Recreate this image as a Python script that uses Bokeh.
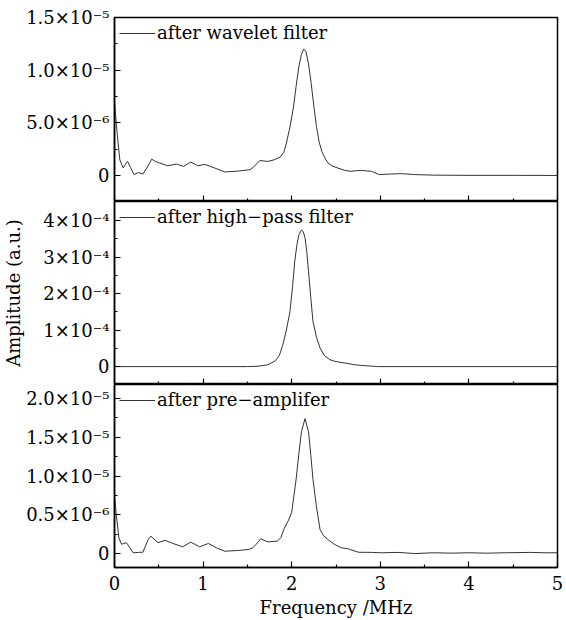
from bokeh.plotting import figure
from bokeh.layouts import column
from bokeh.models import FixedTicker, Range1d, CustomLabelingPolicy
from bokeh.embed import file_html
from bokeh.resources import INLINE

FONT = "DejaVu Serif"

# ---- data (amplitudes in units shown per panel) ----
# after wavelet filter, amplitude in 1e-6
freq_wavelet = [0, 0.03, 0.06, 0.098, 0.125, 0.147, 0.18, 0.22, 0.27, 0.32, 0.37, 0.42, 0.46, 0.51,
                0.6, 0.70, 0.78, 0.86, 0.94, 1.02, 1.13, 1.245, 1.40, 1.53, 1.58, 1.64, 1.73, 1.80,
                1.87, 1.91, 1.94, 1.98, 2.02, 2.05, 2.08, 2.11, 2.135, 2.16, 2.19, 2.22, 2.25, 2.28,
                2.31, 2.34, 2.38, 2.41, 2.46, 2.52, 2.60, 2.67, 2.73, 2.79, 2.85, 2.90, 2.99, 3.1,
                3.24, 3.4, 3.6, 4.0, 4.5, 5.0]
amp_wavelet = [7.0, 4.0, 1.5, 0.73, 1.1, 1.35, 0.8, 0.1, 0.3, 0.15, 0.8, 1.57, 1.35, 1.2,
               0.94, 1.1, 0.88, 1.29, 0.94, 1.07, 0.73, 0.35, 0.44, 0.57, 0.9, 1.44, 1.35, 1.5,
               1.76, 2.2, 3.08, 4.6, 6.5, 8.5, 10.3, 11.5, 12.0, 11.8, 10.6, 8.75, 6.6, 4.65,
               3.2, 2.3, 1.6, 1.2, 0.9, 0.73, 0.5, 0.41, 0.48, 0.5, 0.45, 0.41, 0.1, 0.15,
               0.19, 0.1, 0.05, 0.03, 0.03, 0.02]

# after high-pass filter, amplitude in 1e-4
freq_highpass = [0, 1.0, 1.5, 1.62, 1.73, 1.81, 1.86, 1.90, 1.94, 1.98, 2.01, 2.035, 2.06, 2.08,
                 2.11, 2.13, 2.15, 2.17, 2.19, 2.215, 2.24, 2.28, 2.32, 2.37, 2.43, 2.48, 2.54,
                 2.62, 2.71, 2.85, 2.98, 4.0, 5.0]
amp_highpass = [0, 0, 0, 0.01, 0.05, 0.15, 0.3, 0.6, 1.0, 1.5, 2.2, 2.9, 3.35, 3.6,
                3.74, 3.7, 3.53, 3.15, 2.6, 1.9, 1.24, 0.8, 0.51, 0.3, 0.19, 0.15, 0.12,
                0.09, 0.05, 0.02, 0, 0, 0]

# after pre-amplifer, amplitude in 1e-6
freq_preamp = [0, 0.02, 0.05, 0.08, 0.135, 0.17, 0.21, 0.27, 0.32, 0.38, 0.41, 0.49, 0.57, 0.66,
               0.77, 0.86, 0.96, 1.06, 1.15, 1.245, 1.4, 1.51, 1.56, 1.60, 1.65, 1.73, 1.84, 1.88,
               1.91, 1.96, 2.0, 2.05, 2.08, 2.11, 2.15, 2.19, 2.215, 2.24, 2.28, 2.32, 2.36, 2.41,
               2.48, 2.56, 2.64, 2.75, 2.9, 3.01, 3.2, 3.39, 3.6, 3.8, 4.0, 4.2, 4.4, 4.7, 4.85, 5.0]
amp_preamp = [7.5, 5.0, 2.0, 1.2, 1.4, 0.8, 0.1, 0.15, 0.17, 1.8, 2.25, 1.4, 1.7, 1.3,
              0.87, 1.47, 0.87, 1.3, 0.74, 0.3, 0.4, 0.52, 0.74, 1.2, 1.9, 1.5, 1.6, 2.1,
              3.1, 4.2, 5.3, 9.6, 12.8, 15.7, 17.4, 15.7, 12.8, 9.6, 6.0, 3.1, 2.3, 1.8,
              1.2, 0.74, 0.6, 0.17, 0.15, 0.1, 0.15, 0.0, 0.1, 0.05, 0.1, 0.05, 0.1, 0.15, 0.1, 0.1]

x_ticks = [0, 1, 2, 3, 4, 5]
x_minor = [0.5, 1.5, 2.5, 3.5, 4.5]

top_ticks = [0, 5, 10, 15]
top_labels = ["0", "5.0×10⁻⁶", "1.0×10⁻⁵", "1.5×10⁻⁵"]
mid_ticks = [0, 1, 2, 3, 4]
mid_labels = ["0", "1×10⁻⁴", "2×10⁻⁴", "3×10⁻⁴", "4×10⁻⁴"]
bot_ticks = [0, 5, 10, 15, 20]
bot_labels = ["0", "0.5×10⁻⁶", "1.0×10⁻⁵", "1.5×10⁻⁵", "2.0×10⁻⁵"]

legend_names = ["after wavelet filter", "after high−pass filter", "after pre−amplifer"]

FW = 443
LEFT = 111
RIGHT = 12

hide_all = CustomLabelingPolicy(code="return new indices.constructor(indices.size)")


def make(frame_h, yr, ticks, labels, minor, xs, ys, name, top_border=0, bottom=False, ytitle=None):
    p = figure(frame_width=FW, frame_height=frame_h,
               x_range=Range1d(0, 5), y_range=Range1d(*yr),
               output_backend="svg", toolbar_location=None,
               min_border_left=LEFT, min_border_right=RIGHT,
               min_border_top=top_border, min_border_bottom=0)
    p.background_fill_color = "white"
    p.border_fill_color = "white"
    p.outline_line_color = "black"
    p.outline_line_width = 1.5
    p.outline_line_alpha = 1
    p.grid.visible = False

    p.line(xs, ys, line_color="#333333", line_width=1, legend_label=name)

    ya = p.yaxis[0]
    ya.ticker = FixedTicker(ticks=ticks, minor_ticks=minor)
    ya.major_label_overrides = {t: l for t, l in zip(ticks, labels)}
    ya.major_tick_in = 6
    ya.major_tick_out = 0
    ya.minor_tick_in = 3
    ya.minor_tick_out = 0
    ya.axis_line_width = 1.5
    ya.major_tick_line_width = 1.2
    ya.minor_tick_line_width = 1.2
    ya.major_label_standoff = 5
    ya.major_label_text_font = FONT
    ya.major_label_text_font_size = "18px"
    ya.major_label_text_color = "black"
    if ytitle:
        ya.axis_label = ytitle
        ya.axis_label_text_font = FONT
        ya.axis_label_text_font_size = "18px"
        ya.axis_label_text_font_style = "normal"
        ya.axis_label_text_color = "black"
        ya.axis_label_standoff = 16

    xa = p.xaxis[0]
    xa.ticker = FixedTicker(ticks=x_ticks, minor_ticks=x_minor)
    xa.major_tick_in = 6
    xa.major_tick_out = 0
    xa.minor_tick_in = 3
    xa.minor_tick_out = 0
    xa.axis_line_width = 1.5
    xa.major_tick_line_width = 1.2
    xa.minor_tick_line_width = 1.2
    if bottom:
        xa.major_label_text_font = FONT
        xa.major_label_text_font_size = "18px"
        xa.major_label_text_color = "black"
        xa.major_label_standoff = 8
        xa.axis_label = "Frequency /MHz"
        xa.axis_label_text_font = FONT
        xa.axis_label_text_font_size = "18px"
        xa.axis_label_text_font_style = "normal"
        xa.axis_label_text_color = "black"
        xa.axis_label_standoff = 4
    else:
        xa.major_label_text_font_size = "0px"
        xa.major_label_standoff = 0
        xa.major_label_policy = hide_all

    lg = p.legend[0]
    lg.location = "top_left"
    lg.margin = 3
    lg.padding = 2
    lg.border_line_alpha = 0
    lg.background_fill_alpha = 0
    lg.glyph_width = 36
    lg.glyph_height = 16
    lg.label_height = 16
    lg.label_standoff = 2
    lg.label_text_font = FONT
    lg.label_text_font_size = "18px"
    lg.label_text_color = "black"
    return p


p1 = make(184, (-2.45, 15.001), top_ticks, top_labels, [2.5, 7.5, 12.5],
          freq_wavelet, amp_wavelet, legend_names[0], top_border=17)
p2 = make(183, (-0.49, 4.52), mid_ticks, mid_labels, [0.5, 1.5, 2.5, 3.5],
          freq_highpass, amp_highpass, legend_names[1], ytitle="Amplitude (a.u.)")
p3 = make(183, (-1.8, 21.8), bot_ticks, bot_labels, [2.5, 7.5, 12.5, 17.5],
          freq_preamp, amp_preamp, legend_names[2], bottom=True)

layout = column(p1, p2, p3, spacing=0)
open("out.html", "w").write(file_html(layout, INLINE))
